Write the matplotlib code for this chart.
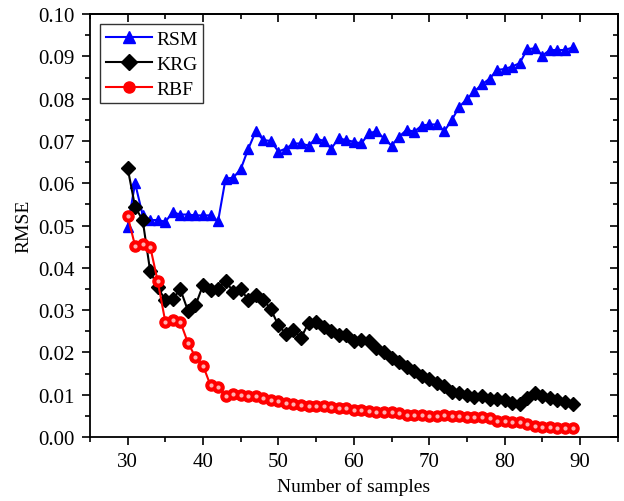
import matplotlib

matplotlib.use("Agg")
import matplotlib.pyplot as plt
from matplotlib.ticker import MultipleLocator, FormatStrFormatter

# sample counts shared by all three surrogate models
samples = list(range(30, 90))

rsm = [0.0497, 0.0600, 0.0525, 0.0513, 0.0513, 0.0509, 0.0531, 0.0526, 0.0526, 0.0524,
       0.0524, 0.0524, 0.0510, 0.0611, 0.0613, 0.0633, 0.0681, 0.0723, 0.0702, 0.0700,
       0.0675, 0.0682, 0.0694, 0.0694, 0.0689, 0.0706, 0.0700, 0.0682, 0.0706, 0.0702,
       0.0698, 0.0694, 0.0718, 0.0723, 0.0706, 0.0689, 0.0710, 0.0726, 0.0722, 0.0736,
       0.0739, 0.0739, 0.0723, 0.0750, 0.0781, 0.0799, 0.0817, 0.0834, 0.0847, 0.0868,
       0.0870, 0.0876, 0.0884, 0.0917, 0.0919, 0.0902, 0.0915, 0.0915, 0.0915, 0.0921]

krg = [0.0637, 0.0544, 0.0513, 0.0392, 0.0355, 0.0323, 0.0327, 0.0349, 0.0299, 0.0311,
       0.0359, 0.0347, 0.0349, 0.0370, 0.0343, 0.0349, 0.0325, 0.0336, 0.0325, 0.0302,
       0.0264, 0.0244, 0.0254, 0.0234, 0.0270, 0.0272, 0.0260, 0.0250, 0.0242, 0.0242,
       0.0228, 0.0230, 0.0228, 0.0210, 0.0202, 0.0186, 0.0177, 0.0165, 0.0157, 0.0145,
       0.0137, 0.0128, 0.0120, 0.0107, 0.0104, 0.0100, 0.0094, 0.0098, 0.0090, 0.0090,
       0.0088, 0.0080, 0.0077, 0.0092, 0.0104, 0.0096, 0.0093, 0.0088, 0.0083, 0.0077]

rbf = [0.0523, 0.0452, 0.0457, 0.0450, 0.0368, 0.0273, 0.0276, 0.0272, 0.0223, 0.0189,
       0.0169, 0.0122, 0.0118, 0.0098, 0.0102, 0.0100, 0.0096, 0.0096, 0.0092, 0.0087,
       0.0084, 0.0081, 0.0078, 0.0076, 0.0074, 0.0074, 0.0073, 0.0071, 0.0069, 0.0068,
       0.0065, 0.0064, 0.0062, 0.0060, 0.0058, 0.0058, 0.0057, 0.0052, 0.0051, 0.0051,
       0.0049, 0.0049, 0.0051, 0.0049, 0.0049, 0.0047, 0.0047, 0.0047, 0.0044, 0.0039,
       0.0039, 0.0036, 0.0035, 0.0031, 0.0025, 0.0023, 0.0023, 0.0021, 0.0021, 0.0021]

plt.rcParams["font.family"] = ["Liberation Serif", "DejaVu Serif"]

fig = plt.figure(figsize=(6.24, 5.02), dpi=100)
ax = fig.add_axes([0.144, 0.1275, 0.846, 0.8425])

ax.plot(samples, rsm, color="#0000ff", lw=1.5, marker="^", ms=7.5, mec="#0000ff",
        mfc="#0000ff", label="RSM", zorder=3)
ax.plot(samples, krg, color="black", lw=1.5, marker="D", ms=7, mec="black",
        mfc="black", label="KRG", zorder=3)
ax.plot(samples, rbf, color="#ff0000", lw=1.5, marker="o", ms=8, mec="#ff0000",
        mfc="#ff0000", label="RBF", zorder=4)
# highlight spots give the red markers a shaded ball look
ax.plot(samples, rbf, ls="none", marker="o", ms=3, mec="none", mfc="#ffb0b0", zorder=5)

ax.set_xlim(25, 95)
ax.set_ylim(0, 0.10)
ax.xaxis.set_major_locator(MultipleLocator(10))
ax.xaxis.set_minor_locator(MultipleLocator(5))
ax.yaxis.set_major_locator(MultipleLocator(0.01))
ax.yaxis.set_minor_locator(MultipleLocator(0.005))
ax.yaxis.set_major_formatter(FormatStrFormatter("%.2f"))

ax.tick_params(which="major", direction="out", length=6, width=1.2, labelsize=15, pad=5)
ax.tick_params(which="minor", direction="out", length=3.5, width=1.2)

# mirrored inward ticks on top and right
top = ax.secondary_xaxis("top")
top.xaxis.set_major_locator(MultipleLocator(10))
top.xaxis.set_minor_locator(MultipleLocator(5))
top.tick_params(which="major", direction="in", length=6, width=1.2, labeltop=False)
top.tick_params(which="minor", direction="in", length=3.5, width=1.2)
right = ax.secondary_yaxis("right")
right.yaxis.set_major_locator(MultipleLocator(0.01))
right.yaxis.set_minor_locator(MultipleLocator(0.005))
right.tick_params(which="major", direction="in", length=6, width=1.2, labelright=False)
right.tick_params(which="minor", direction="in", length=3.5, width=1.2)

for sp in ax.spines.values():
    sp.set_linewidth(1.3)
top.spines["top"].set_linewidth(1.3)
right.spines["right"].set_linewidth(1.3)

ax.set_xlabel("Number of samples", fontsize=14)
ax.set_ylabel("RMSE", fontsize=14)

leg = ax.legend(loc="upper left", fontsize=14, frameon=True, fancybox=False,
                edgecolor="black", handlelength=2.4, borderpad=0.3, labelspacing=0.38,
                handletextpad=0.2, borderaxespad=0, bbox_to_anchor=(0.019, 0.976))
leg.get_frame().set_linewidth(1.0)
for h in leg.legend_handles:
    h.set_markersize(8)

fig.savefig("out.png", dpi=100)
